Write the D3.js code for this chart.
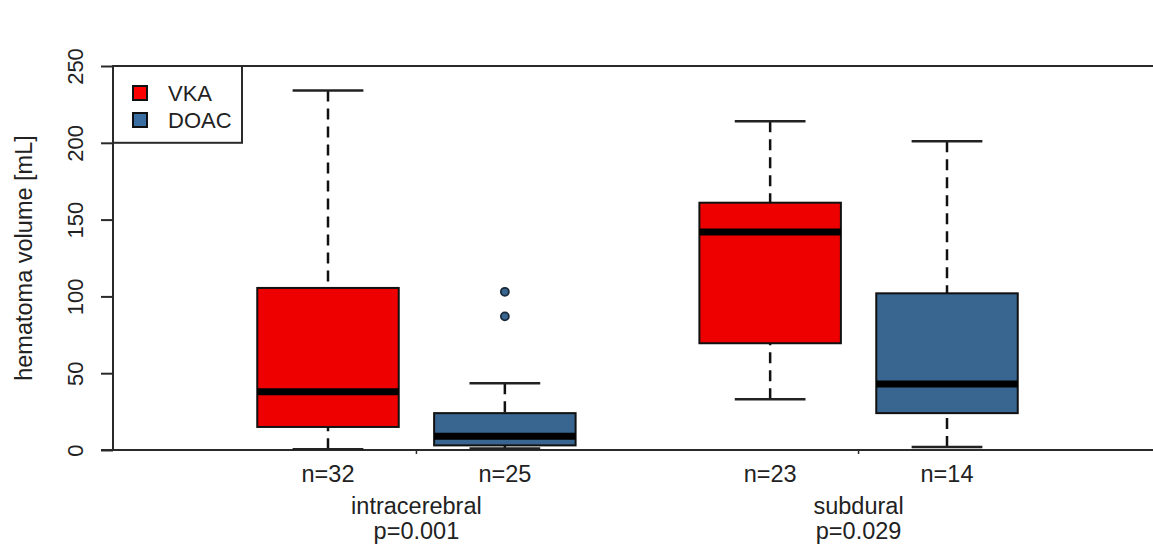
<!DOCTYPE html>
<html>
<head>
<meta charset="utf-8">
<script src="https://cdn.jsdelivr.net/npm/d3@7"></script>
<style>
  html, body { margin: 0; padding: 0; background: #fff; }
  svg { display: block; font-family: "Liberation Sans", Arial, sans-serif; }
</style>
</head>
<body>
<svg id="chart" width="1153" height="548"></svg>
<script>
// ---- data ----
const groups = ["intracerebral", "subdural"];
const pValues = ["p=0.001", "p=0.029"];
const drugs = ["VKA", "DOAC"];
const sampleSizes = [[32, 25], [23, 14]];
// five-number summaries [lowerWhisker, q1, median, q3, upperWhisker]
const vkaStats  = [[0.5, 15, 38, 105.5, 234], [33, 69.5, 142, 161, 214]];
const doacStats = [[1, 3, 9, 24, 43.5], [2, 24, 43, 102, 201]];
const doacOutliers = [[103, 87], []];
const yTicks = [0, 50, 100, 150, 200, 250];

const colors = { VKA: "#ee0000", DOAC: "#386690" };
const legendColors = { VKA: "#ff0000", DOAC: "#3a6ea0" };

// ---- layout ----
const W = 1153, H = 548;
const mLeft = 113, mTop = 66, mBottom = 450;

const svg = d3.select("#chart");

const y = d3.scaleLinear().domain([0, 250]).range([mBottom, mTop]);
// R-like "at" positions: group g, drug s -> 1 + 2.5*g + s
const x = d3.scaleLinear().domain([1, 4.5]).range([328, 947]);
const unit = x(2) - x(1);
const boxW = 0.8 * unit;

const boxes = [];
groups.forEach((g, gi) => {
  drugs.forEach((d, si) => {
    const st = (d === "VKA" ? vkaStats : doacStats)[gi];
    boxes.push({
      group: g, drug: d, pos: 1 + 2.5 * gi + si,
      stats: st, n: sampleSizes[gi][si],
      outliers: d === "DOAC" ? doacOutliers[gi] : []
    });
  });
});

// frame lines
const frameColor = "#2a2a2a";
svg.append("line").attr("x1", mLeft).attr("x2", W).attr("y1", mTop).attr("y2", mTop)
  .attr("stroke", frameColor).attr("stroke-width", 2);
svg.append("line").attr("x1", mLeft - 12).attr("x2", W).attr("y1", mBottom).attr("y2", mBottom)
  .attr("stroke", frameColor).attr("stroke-width", 2);
svg.append("line").attr("x1", mLeft).attr("x2", mLeft).attr("y1", mTop).attr("y2", mBottom)
  .attr("stroke", frameColor).attr("stroke-width", 2);

// y axis
const yAxis = d3.axisLeft(y).tickValues(yTicks).tickSize(12).tickPadding(6);
const gy = svg.append("g").attr("transform", `translate(${mLeft},0)`).call(yAxis);
gy.select(".domain").remove();
gy.selectAll(".tick line").attr("stroke", frameColor).attr("stroke-width", 2);
gy.selectAll(".tick text")
  .attr("font-size", 22).attr("fill", "#222")
  .attr("text-anchor", "middle")
  .attr("x", null).attr("dy", null)
  .attr("transform", "translate(-30,0) rotate(-90)");

svg.append("text")
  .attr("transform", `translate(32,${(mTop + mBottom) / 2}) rotate(-90)`)
  .attr("text-anchor", "middle").attr("font-size", 23.5).attr("fill", "#222")
  .text("hematoma volume [mL]");

// group ticks on x axis
svg.selectAll(".gtick").data(groups).enter().append("line")
  .attr("x1", (d, i) => x(1.5 + 2.5 * i)).attr("x2", (d, i) => x(1.5 + 2.5 * i))
  .attr("y1", mBottom).attr("y2", mBottom + 4)
  .attr("stroke", frameColor).attr("stroke-width", 1.5);

// boxes
const bg = svg.selectAll(".box").data(boxes).enter().append("g");

// whiskers (dashed), drawn from cap toward box
bg.append("line")
  .attr("x1", d => x(d.pos)).attr("x2", d => x(d.pos))
  .attr("y1", d => y(d.stats[4])).attr("y2", d => y(d.stats[3]))
  .attr("stroke", "#111").attr("stroke-width", 2.5).attr("stroke-dasharray", "11 7");
bg.append("line")
  .attr("x1", d => x(d.pos)).attr("x2", d => x(d.pos))
  .attr("y1", d => y(d.stats[0])).attr("y2", d => y(d.stats[1]))
  .attr("stroke", "#111").attr("stroke-width", 2.5).attr("stroke-dasharray", "11 7");
// caps
[0, 4].forEach(k => {
  bg.append("line")
    .attr("x1", d => x(d.pos) - boxW / 4).attr("x2", d => x(d.pos) + boxW / 4)
    .attr("y1", d => y(d.stats[k])).attr("y2", d => y(d.stats[k]))
    .attr("stroke", "#222").attr("stroke-width", 2.5);
});
// box
bg.append("rect")
  .attr("x", d => x(d.pos) - boxW / 2).attr("width", boxW)
  .attr("y", d => y(d.stats[3])).attr("height", d => y(d.stats[1]) - y(d.stats[3]))
  .attr("fill", d => colors[d.drug]).attr("stroke", "#111").attr("stroke-width", 2);
// median
bg.append("line")
  .attr("x1", d => x(d.pos) - boxW / 2).attr("x2", d => x(d.pos) + boxW / 2)
  .attr("y1", d => y(d.stats[2])).attr("y2", d => y(d.stats[2]))
  .attr("stroke", "#000").attr("stroke-width", 7);
// outliers
bg.selectAll(".out").data(d => d.outliers.map(v => ({ v, d }))).enter().append("circle")
  .attr("cx", o => x(o.d.pos)).attr("cy", o => y(o.v)).attr("r", 4)
  .attr("fill", o => colors[o.d.drug]).attr("stroke", "#1a2a3a").attr("stroke-width", 1.8);

// n labels
bg.append("text")
  .attr("x", d => x(d.pos)).attr("y", 482)
  .attr("text-anchor", "middle").attr("font-size", 23.5).attr("fill", "#222")
  .text(d => "n=" + d.n);

// group labels
svg.selectAll(".glab").data(groups).enter().append("text")
  .attr("x", (d, i) => x(1.5 + 2.5 * i)).attr("y", 514)
  .attr("text-anchor", "middle").attr("font-size", 23.5).attr("fill", "#222")
  .text(d => d);
svg.selectAll(".plab").data(pValues).enter().append("text")
  .attr("x", (d, i) => x(1.5 + 2.5 * i)).attr("y", 539)
  .attr("text-anchor", "middle").attr("font-size", 23.5).attr("fill", "#222")
  .text(d => d);

// legend
const leg = svg.append("g");
leg.append("rect").attr("x", mLeft).attr("y", mTop).attr("width", 242 - mLeft).attr("height", y(200) - mTop)
  .attr("fill", "#fff").attr("stroke", frameColor).attr("stroke-width", 2);
const li = leg.selectAll(".li").data(drugs).enter().append("g")
  .attr("transform", (d, i) => `translate(0,${i * 27})`);
li.append("rect").attr("x", 133).attr("y", 86).attr("width", 14).attr("height", 14)
  .attr("fill", d => legendColors[d]).attr("stroke", "#111").attr("stroke-width", 2);
li.append("text").attr("x", 168).attr("y", 101).attr("font-size", 22).attr("fill", "#222")
  .text(d => d);
</script>
</body>
</html>
